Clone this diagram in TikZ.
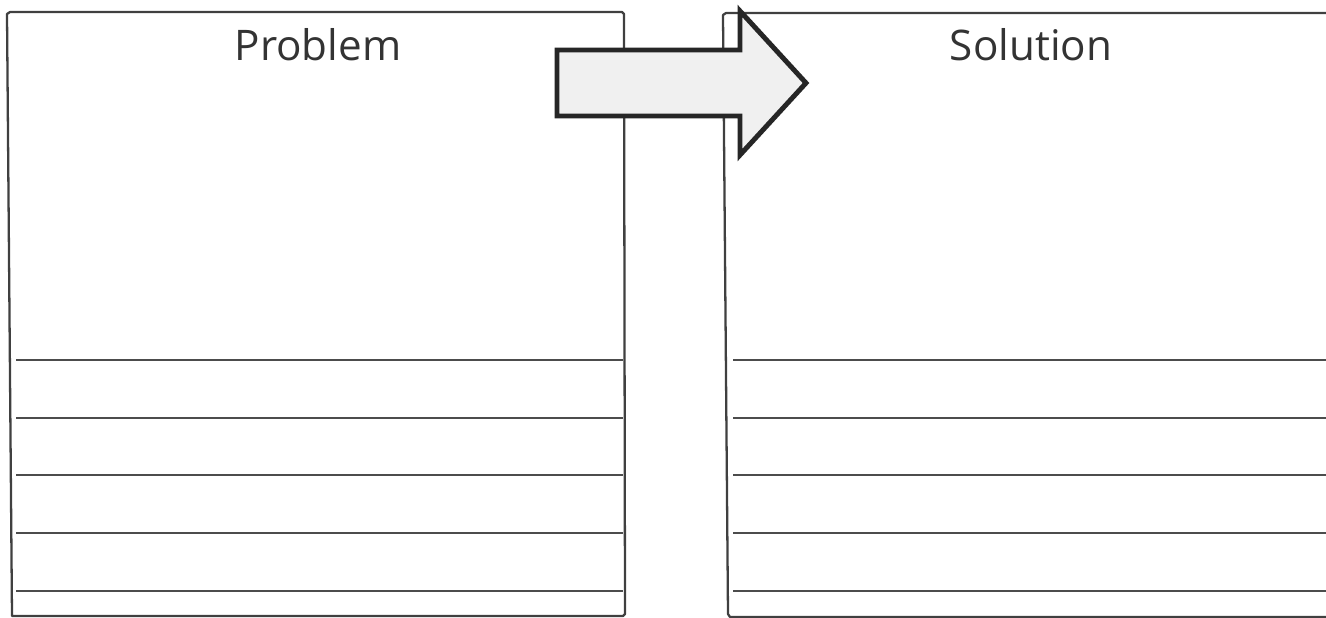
\documentclass[tikz,border=0pt]{standalone}
\usepackage{fontspec}
\setmainfont{Open Sans}
\usetikzlibrary{positioning}

\tikzset{
  panel/.style={draw=black!75, line width=1.3pt, line join=round},
  rule/.style={draw=black!70, line width=1.1pt},
  heading/.style={font=\fontsize{24}{28}\selectfont, text=black!80, anchor=base},
  bigarrow/.style={draw=black!85, line width=2.8pt, fill=black!6, line join=miter},
}

\begin{document}
\begin{tikzpicture}[x=0.02cm, y=-0.02cm]
\useasboundingbox (0,0) rectangle (1326,618);

% left panel: the problem
\draw[panel] (7,14) -- (10,12) -- (622,12) -- (624,14) -- (625,614) -- (623,616) -- (12,616) -- cycle;
\node[heading] (problem) at (318,61) {Problem};

% right panel: the solution, cut off at the right edge
\draw[panel] (723,15) -- (726,13) -- (1340,13) -- (1340,617) -- (730,617) -- (728,614) -- cycle;
\node[heading] (solution) at (1031,61) {Solution};

% writing lines in both panels
\foreach \y in {360,418,475,533,591} {
  \draw[rule] (16,\y) -- (623,\y);
  \draw[rule] (733,\y) -- (1326,\y);
}

% big arrow from problem to solution
\draw[bigarrow] (557,50) -- (740,50) -- (740,11) -- (806,83) -- (740,155) -- (740,116) -- (557,116) -- cycle;

\end{tikzpicture}
\end{document}
